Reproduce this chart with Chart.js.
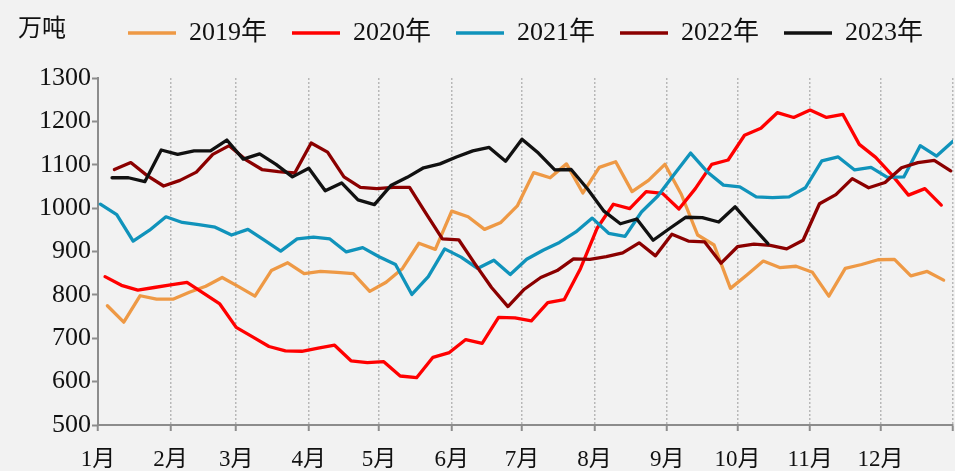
<!DOCTYPE html>
<html>
<head>
<meta charset="utf-8">
<script src="https://cdn.jsdelivr.net/npm/chart.js@4/dist/chart.umd.min.js"></script>
<style>
  html, body { margin: 0; padding: 0; background: #f2f2f2; }
  #wrap { width: 955px; height: 471px; }
</style>
</head>
<body>
<div id="wrap"><canvas id="chart" width="955" height="471"></canvas></div>
<script>
// Weekly volumes (万吨), one array per year, first observation day-of-year below.
const unitLabel = '万吨';
const monthLabels = ['1月','2月','3月','4月','5月','6月','7月','8月','9月','10月','11月','12月'];
const monthStartDays = [0, 31, 59, 90, 120, 151, 181, 212, 243, 273, 304, 334, 365];

const seriesNames = ['2019年', '2020年', '2021年', '2022年', '2023年'];
const seriesColors = ['#EE9945', '#FF0000', '#1093BB', '#8B0000', '#111111'];
const firstDays = [4, 3, 1, 7, 6];

const values2019 = [775,737,798,790,790,806,820,840,819,797,856,874,849,854,852,849,808,829,861,919,
  905,993,980,951,967,1005,1082,1070,1102,1035,1094,1107,1038,1064,1101,1032,938,915,815,846,
  878,863,866,852,797,861,870,881,882,844,854,834];
const values2020 = [842,822,811,817,823,829,804,779,725,703,681,671,670,677,684,648,644,646,613,609,
  656,667,697,688,748,747,740,782,789,861,953,1009,999,1038,1034,998,1045,1101,1111,1168,
  1184,1220,1209,1226,1209,1216,1147,1117,1076,1030,1045,1007];
const values2021 = [1009,985,924,949,980,967,962,956,938,951,926,901,929,933,929,899,909,888,870,801,
  842,906,887,861,880,847,882,903,921,945,977,942,935,991,1028,1078,1127,1084,1053,1049,
  1026,1024,1026,1047,1109,1118,1088,1094,1071,1072,1144,1120,1154];
const values2022 = [1089,1105,1075,1051,1064,1083,1124,1144,1112,1089,1084,1081,1150,1129,1072,1048,1045,1048,1048,988,
  929,927,871,817,773,813,840,856,883,882,888,897,920,890,940,924,922,873,911,917,
  914,906,926,1010,1031,1068,1047,1059,1093,1105,1110,1086];
const values2023 = [1070,1070,1061,1134,1124,1132,1132,1157,1113,1125,1101,1072,1092,1040,1058,1019,1008,1052,1071,1093,
  1102,1118,1132,1140,1108,1159,1127,1088,1089,1044,993,964,975,926,953,979,978,968,1003,960,918];

const yearValues = [values2019, values2020, values2021, values2022, values2023];

const textFont = "'Liberation Serif', 'Noto Sans CJK SC', serif";
const axisGrey = '#8c8c8c';

// weekly points placed on a day-of-year axis
function weekly(values, firstDay) {
  return values.map((v, i) => ({ x: firstDay + 7 * i, y: v }));
}

const datasets = yearValues.map((vals, k) => ({
  label: seriesNames[k],
  data: weekly(vals, firstDays[k]),
  borderColor: seriesColors[k],
  backgroundColor: seriesColors[k],
  borderWidth: 3.3,
  borderCapStyle: 'round',
  borderJoinStyle: 'round',
  pointRadius: 0,
  pointHoverRadius: 0,
  tension: 0,
  fill: false,
  order: yearValues.length - k
}));

const LEGEND_BAND = 78;
const LEGEND_LIFT = 5;

const frame = {
  id: 'frame',
  afterInit(chart) {
    const legend = chart.legend;
    const baseFit = legend.fit;
    legend.fit = function () {
      baseFit.call(this);
      this.height = LEGEND_BAND;
    };
  },
  afterLayout(chart) {
    const legend = chart.legend;
    legend.top -= LEGEND_LIFT;
    legend.bottom -= LEGEND_LIFT;
    legend.adjustHitBoxes();
  },
  beforeDraw(chart) {
    const { ctx, width, height } = chart;
    ctx.save();
    ctx.fillStyle = '#f2f2f2';
    ctx.fillRect(0, 0, width, height);
    ctx.restore();
  },
  afterDraw(chart) {
    const { ctx } = chart;
    ctx.save();
    ctx.font = "24px 'Noto Sans CJK SC'";
    ctx.fillStyle = '#111';
    ctx.textBaseline = 'middle';
    ctx.textAlign = 'left';
    ctx.fillText(unitLabel, 18, 27);
    ctx.restore();
  }
};

new Chart(document.getElementById('chart'), {
  type: 'line',
  data: { datasets },
  options: {
    responsive: false,
    animation: false,
    layout: { padding: { left: 0, right: 2, top: 0, bottom: 0 } },
    plugins: {
      tooltip: { enabled: false },
      legend: {
        position: 'top',
        fullSize: false,
        align: 'center',
        labels: {
          usePointStyle: true,
          pointStyle: 'line',
          pointStyleWidth: 48,
          padding: 25,
          color: '#111',
          font: { family: textFont, size: 26 },
          sort: (a, b) => a.datasetIndex - b.datasetIndex
        }
      }
    },
    scales: {
      x: {
        type: 'linear',
        min: 0,
        max: 365,
        afterBuildTicks: (axis) => { axis.ticks = monthStartDays.map(value => ({ value })); },
        afterFit: (axis) => {
          axis.height = 46;
          axis.paddingLeft = 0;
          axis.paddingRight = 0;
        },
        ticks: {
          autoSkip: false,
          maxRotation: 0,
          minRotation: 0,
          padding: 15,
          color: '#111',
          font: { family: textFont, size: 23 },
          callback: (value, index) => monthLabels[index] ?? ''
        },
        grid: {
          display: true,
          drawOnChartArea: true,
          drawTicks: true,
          color: '#b8b8b8',
          lineWidth: 1.5,
          tickColor: axisGrey,
          tickWidth: 2,
          tickLength: 6
        },
        border: { display: true, color: axisGrey, width: 2, dash: [2, 2] }
      },
      y: {
        min: 500,
        max: 1300,
        afterFit: (axis) => { axis.width = 98; },
        ticks: {
          stepSize: 100,
          padding: 1,
          color: '#111',
          font: { family: textFont, size: 26 },
          callback: (value) => String(value)
        },
        grid: {
          drawOnChartArea: false,
          drawTicks: true,
          tickColor: axisGrey,
          tickWidth: 2,
          tickLength: 6
        },
        border: { display: true, color: axisGrey, width: 2 }
      }
    }
  },
  plugins: [frame]
});
</script>
</body>
</html>
